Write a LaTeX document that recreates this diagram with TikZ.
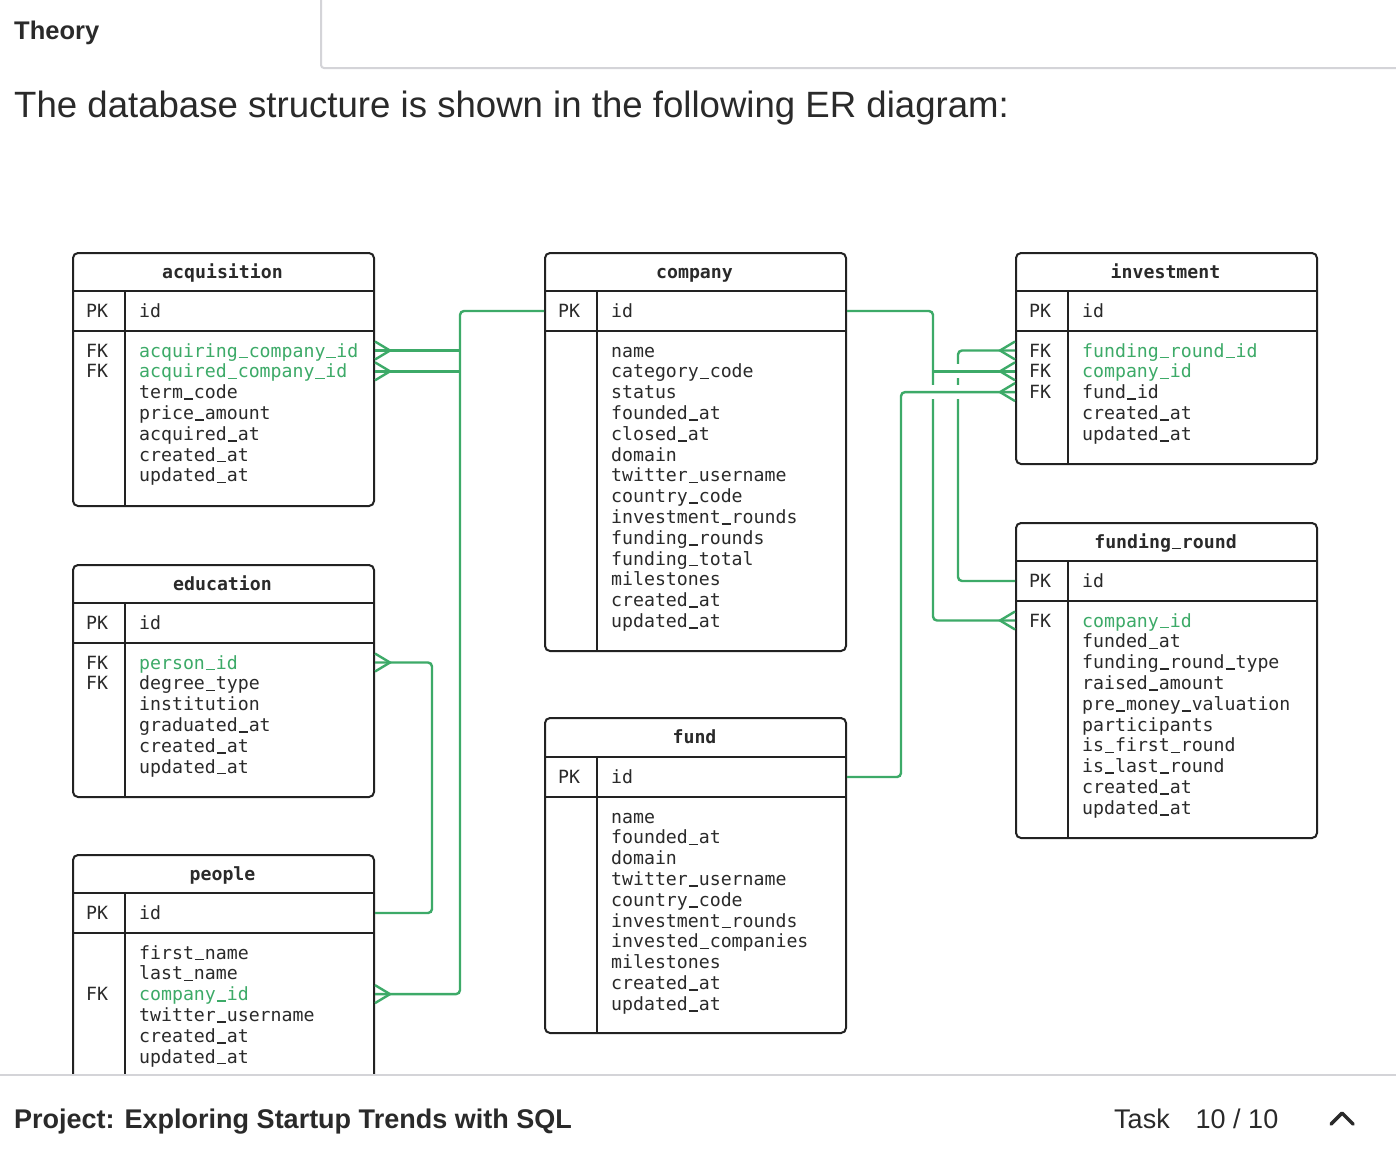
\documentclass[tikz,border=0pt]{standalone}
\usepackage{fontspec}
\setmainfont{Liberation Sans}
\newfontfamily\dbmono{DejaVu Sans Mono}
\usepackage{tikz}
\definecolor{erd}{HTML}{3DAA68}
\definecolor{frame}{HTML}{222222}
\definecolor{ink}{HTML}{2A2A2A}
\definecolor{sepgray}{HTML}{D4D4D8}
\newcommand{\dbsize}{\fontsize{18.2}{20.8}\selectfont}
\newcommand{\fk}[1]{\textcolor{erd}{#1}}
\newcommand{\us}{\makebox[0.602em][c]{\rule[-1.3pt]{0.5em}{1.7pt}}}
\tikzstyle{entity} = [rectangle, rounded corners=5pt, minimum width=301pt, inner sep=0pt, anchor=north west, draw=frame, line width=2pt]
\tikzstyle{rule} = [draw=frame, line width=2pt]
\tikzstyle{title} = [font={\dbmono\bfseries\dbsize}, text=ink, inner sep=0pt, anchor=base]
\tikzstyle{key} = [font={\dbmono\dbsize}, text=ink, inner sep=0pt]
\tikzstyle{field} = [font={\dbmono\dbsize}, text=ink, inner sep=0pt, anchor=base west]
\tikzstyle{rel} = [draw=erd, line width=2.4pt, rounded corners=4pt]
\tikzstyle{uitext} = [inner sep=0pt, anchor=base west, text=ink]
\tikzset{
  crow/.pic={\draw[rel, rounded corners=0pt] (0,-9) -- (15,0) -- (0,9);},
  hop/.pic={\fill[white] (-4,-7) rectangle (4,7);}
}

\begin{document}
\begin{tikzpicture}[x=1pt, y=-1pt]
    \fill[white] (0,0) rectangle (1396,1156);
    \useasboundingbox (0,0) rectangle (1396,1156);

    % page header
    \draw[sepgray, line width=2pt, rounded corners=3pt] (321,0) -- (321,68) -- (1396,68);
    \node (theory) [uitext, font=\bfseries\fontsize{25.5}{30}\selectfont] at (14,40) {Theory};
    \node (intro) [uitext, font=\fontsize{36.6}{42}\selectfont] at (14,117) {The database structure is shown in the following ER diagram:};

    % acquisition
    \node (acq) [entity, minimum height=253pt] at (72,252) {};
    \draw[rule] (72,291) -- (373,291);
    \draw[rule] (72,331) -- (373,331);
    \draw[rule] (125,291) -- (125,505);
    \node (acq-name) [title] at (222.5,278) {acquisition};
    \node (acq-pk) [key] at (97,311) {PK};
    \node (acq-id) [field] at (139,317.6) {id};
    \node (acq-fk1) [key] at (97,350.5) {FK};
    \node (acq-fk2) [key] at (97,371.3) {FK};
    \foreach \f [count=\i from 0] in {\fk{acquiring\us company\us id},\fk{acquired\us company\us id},term\us code,price\us amount,acquired\us at,created\us at,updated\us at}
        \node (acq-f\i) [field] at (139,357.1+20.8*\i) {\f};

    % education
    \node (edu) [entity, minimum height=232pt] at (72,564) {};
    \draw[rule] (72,603) -- (373,603);
    \draw[rule] (72,643) -- (373,643);
    \draw[rule] (125,603) -- (125,796);
    \node (edu-name) [title] at (222.5,590) {education};
    \node (edu-pk) [key] at (97,623) {PK};
    \node (edu-id) [field] at (139,629.6) {id};
    \node (edu-fk1) [key] at (97,662.5) {FK};
    \node (edu-fk2) [key] at (97,683.3) {FK};
    \foreach \f [count=\i from 0] in {\fk{person\us id},degree\us type,institution,graduated\us at,created\us at,updated\us at}
        \node (edu-f\i) [field] at (139,669.1+20.8*\i) {\f};

    % people
    \node (ppl) [entity, minimum height=256pt] at (72,854) {};
    \draw[rule] (72,893) -- (373,893);
    \draw[rule] (72,933) -- (373,933);
    \draw[rule] (125,893) -- (125,1110);
    \node (ppl-name) [title] at (222.5,880) {people};
    \node (ppl-pk) [key] at (97,913) {PK};
    \node (ppl-id) [field] at (139,919.6) {id};
    \node (ppl-fk1) [key] at (97,994.1) {FK};
    \foreach \f [count=\i from 0] in {first\us name,last\us name,\fk{company\us id},twitter\us username,created\us at,updated\us at}
        \node (ppl-f\i) [field] at (139,959.1+20.8*\i) {\f};

    % company
    \node (comp) [entity, minimum height=398pt] at (544,252) {};
    \draw[rule] (544,291) -- (845,291);
    \draw[rule] (544,331) -- (845,331);
    \draw[rule] (597,291) -- (597,650);
    \node (comp-name) [title] at (694.5,278) {company};
    \node (comp-pk) [key] at (569,311) {PK};
    \node (comp-id) [field] at (611,317.6) {id};
    \foreach \f [count=\i from 0] in {name,category\us code,status,founded\us at,closed\us at,domain,twitter\us username,country\us code,investment\us rounds,funding\us rounds,funding\us total,milestones,created\us at,updated\us at}
        \node (comp-f\i) [field] at (611,357.1+20.8*\i) {\f};

    % fund
    \node (fund) [entity, minimum height=315pt] at (544,717) {};
    \draw[rule] (544,757) -- (845,757);
    \draw[rule] (544,797) -- (845,797);
    \draw[rule] (597,757) -- (597,1032);
    \node (fund-name) [title] at (694.5,743) {fund};
    \node (fund-pk) [key] at (569,777) {PK};
    \node (fund-id) [field] at (611,783.6) {id};
    \foreach \f [count=\i from 0] in {name,founded\us at,domain,twitter\us username,country\us code,investment\us rounds,invested\us companies,milestones,created\us at,updated\us at}
        \node (fund-f\i) [field] at (611,823.1+20.8*\i) {\f};

    % investment
    \node (inv) [entity, minimum height=211pt] at (1015,252) {};
    \draw[rule] (1015,291) -- (1316,291);
    \draw[rule] (1015,331) -- (1316,331);
    \draw[rule] (1068,291) -- (1068,463);
    \node (inv-name) [title] at (1165.5,278) {investment};
    \node (inv-pk) [key] at (1040,311) {PK};
    \node (inv-id) [field] at (1082,317.6) {id};
    \node (inv-fk1) [key] at (1040,350.5) {FK};
    \node (inv-fk2) [key] at (1040,371.3) {FK};
    \node (inv-fk3) [key] at (1040,392.1) {FK};
    \foreach \f [count=\i from 0] in {\fk{funding\us round\us id},\fk{company\us id},fund\us id,created\us at,updated\us at}
        \node (inv-f\i) [field] at (1082,357.1+20.8*\i) {\f};

    % funding_round
    \node (fr) [entity, minimum height=315pt] at (1015,522) {};
    \draw[rule] (1015,561) -- (1316,561);
    \draw[rule] (1015,601) -- (1316,601);
    \draw[rule] (1068,561) -- (1068,837);
    \node (fr-name) [title] at (1165.5,548) {funding\us round};
    \node (fr-pk) [key] at (1040,581) {PK};
    \node (fr-id) [field] at (1082,587.6) {id};
    \node (fr-fk1) [key] at (1040,620.5) {FK};
    \foreach \f [count=\i from 0] in {\fk{company\us id},funded\us at,funding\us round\us type,raised\us amount,pre\us money\us valuation,participants,is\us first\us round,is\us last\us round,created\us at,updated\us at}
        \node (fr-f\i) [field] at (1082,627.1+20.8*\i) {\f};

    % relations
    \coordinate (lbus) at (460,0);
    \coordinate (ebus) at (432,0);
    \coordinate (rbus) at (933,0);
    \coordinate (fbus) at (958,0);
    \coordinate (dbus) at (901,0);

    \draw[rel] (comp.west |- comp-pk) -| (lbus |- ppl-fk1) -- (ppl.east |- ppl-fk1);
    \draw[rel] (lbus |- acq-fk1) -- (acq.east |- acq-fk1);
    \draw[rel] (lbus |- acq-fk2) -- (acq.east |- acq-fk2);
    \draw[rel] (ppl.east |- ppl-pk) -| (ebus |- edu-fk1) -- (edu.east |- edu-fk1);

    \draw[rel] (comp.east |- comp-pk) -| (rbus |- fr-fk1) -- (fr.west |- fr-fk1);
    \draw[rel] (fr.west |- fr-pk) -| (fbus |- inv-fk1) -- (inv.west |- inv-fk1);
    \pic at (fbus |- inv-fk2) {hop};
    \pic at (fbus |- inv-fk3) {hop};
    \pic at (rbus |- inv-fk3) {hop};
    \draw[rel] (rbus |- inv-fk2) -- (inv.west |- inv-fk2);
    \draw[rel] (fund.east |- fund-pk) -| (dbus |- inv-fk3) -- (inv.west |- inv-fk3);

    \pic at (acq.east |- acq-fk1) {crow};
    \pic at (acq.east |- acq-fk2) {crow};
    \pic at (edu.east |- edu-fk1) {crow};
    \pic at (ppl.east |- ppl-fk1) {crow};
    \pic[xscale=-1] at (inv.west |- inv-fk1) {crow};
    \pic[xscale=-1] at (inv.west |- inv-fk2) {crow};
    \pic[xscale=-1] at (inv.west |- inv-fk3) {crow};
    \pic[xscale=-1] at (fr.west |- fr-fk1) {crow};

    % page footer
    \fill[white] (0,1076) rectangle (1396,1156);
    \draw[sepgray, line width=2pt] (0,1075) -- (1396,1075);
    \node (project) [uitext, font=\bfseries\fontsize{27}{32}\selectfont] at (14,1128) {Project: Exploring Startup Trends with SQL};
    \node (task) [uitext, font=\fontsize{27}{32}\selectfont] at (1114,1128) {Task\hspace{26pt}10 / 10};
    \draw[ink, line width=3.5pt, line cap=round, line join=round] (1331,1124) -- (1342,1113) -- (1353,1124);
\end{tikzpicture}
\end{document}
